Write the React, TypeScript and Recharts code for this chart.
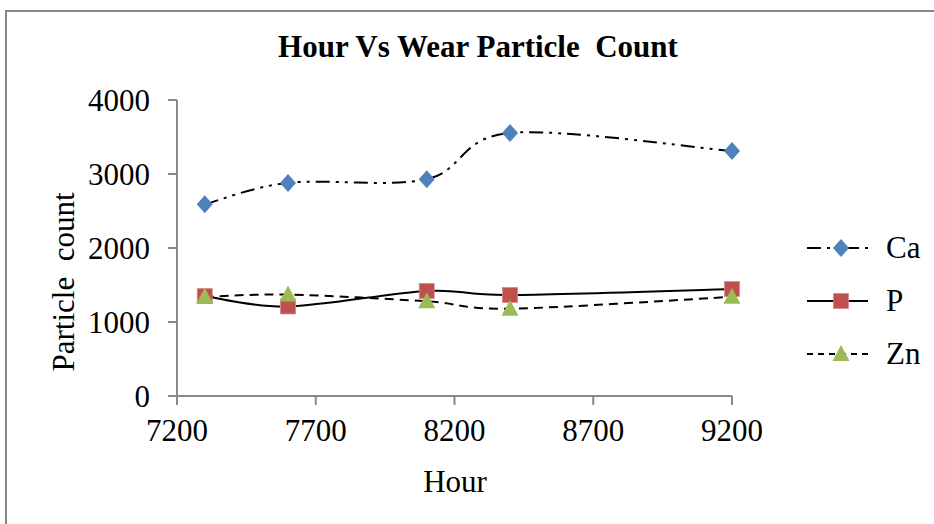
import { LineChart, Line, XAxis, YAxis } from "recharts";

const hours = [7300, 7600, 8100, 8400, 9200];
const caCounts = [2590, 2880, 2930, 3555, 3310];
const pCounts = [1350, 1210, 1420, 1365, 1445];
const znCounts = [1340, 1370, 1280, 1180, 1340];
const xTicks = [7200, 7700, 8200, 8700, 9200];
const yTicks = [0, 1000, 2000, 3000, 4000];

const data = hours.map((h, i) => ({
  hour: h,
  Ca: caCounts[i],
  P: pCounts[i],
  Zn: znCounts[i],
}));

const FONT = "'Liberation Serif', 'Times New Roman', serif";
const AXIS = "#898989";

// smoothing close to the spreadsheet "smoothed line" (catmull-rom style)
function smoothCurve(context: any) {
  let pts: number[][] = [];
  return {
    areaStart() {},
    areaEnd() {},
    lineStart() {
      pts = [];
    },
    lineEnd() {
      const n = pts.length;
      if (!n) return;
      context.moveTo(pts[0][0], pts[0][1]);
      for (let i = 0; i < n - 1; i++) {
        const p0 = pts[Math.max(i - 1, 0)];
        const p1 = pts[i];
        const p2 = pts[i + 1];
        const p3 = pts[Math.min(i + 2, n - 1)];
        context.bezierCurveTo(
          p1[0] + (p2[0] - p0[0]) / 6,
          p1[1] + (p2[1] - p0[1]) / 6,
          p2[0] - (p3[0] - p1[0]) / 6,
          p2[1] - (p3[1] - p1[1]) / 6,
          p2[0],
          p2[1]
        );
      }
    },
    point(x: number, y: number) {
      pts.push([+x, +y]);
    },
  };
}

const Diamond = ({ cx, cy }: any) =>
  cx == null ? null : (
    <path
      d={`M${cx},${cy - 9} L${cx + 8},${cy} L${cx},${cy + 9} L${cx - 8},${cy} Z`}
      fill="#4F81BD"
    />
  );

const Square = ({ cx, cy }: any) =>
  cx == null ? null : (
    <rect x={cx - 7.5} y={cy - 7.5} width={15} height={15} fill="#C0504D" stroke="#D88A88" strokeWidth={0.8} />
  );

const Triangle = ({ cx, cy }: any) =>
  cx == null ? null : (
    <path d={`M${cx},${cy - 9} L${cx + 8.5},${cy + 7} L${cx - 8.5},${cy + 7} Z`} fill="#9BBB59" />
  );

const series = [
  { key: "Ca", dash: "14 6 3 6 3 6", Dot: Diamond },
  { key: "P", dash: undefined, Dot: Square },
  { key: "Zn", dash: "9 6", Dot: Triangle },
];

const LegendBox = () => (
  <svg width={134} height={160} style={{ position: "absolute", left: 800, top: 220 }}>
    {series.map((s, i) => {
      const y = 28 + i * 53;
      const D = s.Dot;
      return (
        <g key={s.key}>
          <line x1={7} x2={68} y1={y} y2={y} stroke="#000" strokeWidth={2} strokeDasharray={s.key === "Zn" ? "6 5" : s.dash} />
          <D cx={41} cy={y} />
          <text x={86} y={y + 10} fontFamily={FONT} fontSize={31} fill="#000">
            {s.key}
          </text>
        </g>
      );
    })}
  </svg>
);

export default function App() {
  return (
    <div
      style={{
        position: "absolute",
        left: 0,
        top: 0,
        width: 934,
        height: 524,
        overflow: "hidden",
        background: "#fff",
        fontFamily: FONT,
      }}
    >
      <div
        style={{
          position: "absolute",
          left: 5,
          top: 10,
          width: 1000,
          height: 600,
          border: "2px solid #878787",
        }}
      />
      <LineChart width={934} height={524} data={data} margin={{ top: 100, right: 202, bottom: 0, left: 0 }}>
        <XAxis
          dataKey="hour"
          type="number"
          domain={[7200, 9200]}
          ticks={xTicks}
          height={128}
          tickSize={9}
          tickMargin={14}
          stroke={AXIS}
          strokeWidth={2}
          tick={{ fill: "#000", fontSize: 31, fontFamily: FONT }}
        />
        <YAxis
          type="number"
          domain={[0, 4000]}
          ticks={yTicks}
          width={177}
          tickSize={9}
          tickMargin={18}
          stroke={AXIS}
          strokeWidth={2}
          tick={{ fill: "#000", fontSize: 31, fontFamily: FONT }}
        />
        {series.map((s) => (
          <Line
            key={s.key}
            dataKey={s.key}
            type={smoothCurve as any}
            stroke="#000"
            strokeWidth={2}
            strokeDasharray={s.dash}
            dot={<s.Dot />}
            activeDot={false}
            isAnimationActive={false}
          />
        ))}
      </LineChart>
      <div
        style={{
          position: "absolute",
          left: 0,
          width: 956,
          top: 29,
          textAlign: "center",
          fontWeight: "bold",
          fontSize: 31,
          whiteSpace: "pre",
        }}
      >
        {"Hour Vs Wear Particle  Count"}
      </div>
      <div
        style={{
          position: "absolute",
          left: 64,
          top: 282,
          transform: "translate(-50%, -50%) rotate(-90deg)",
          fontSize: 31,
          whiteSpace: "pre",
        }}
      >
        {"Particle  count"}
      </div>
      <div
        style={{
          position: "absolute",
          left: 455,
          top: 482,
          transform: "translate(-50%, -50%)",
          fontSize: 31,
        }}
      >
        Hour
      </div>
      <LegendBox />
    </div>
  );
}
